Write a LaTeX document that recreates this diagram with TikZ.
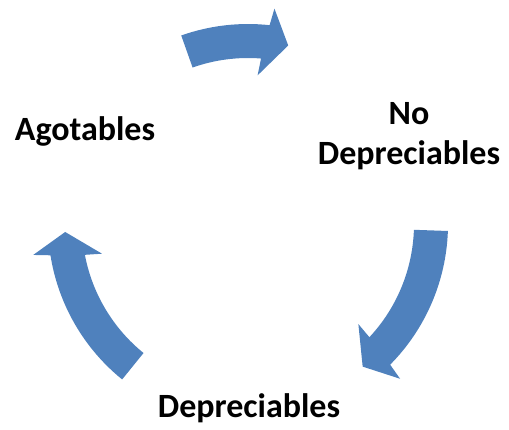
\documentclass[tikz,border=0pt]{standalone}
\usepackage{fontspec}
\setmainfont{Carlito}
\definecolor{cycblue}{RGB}{79,129,189}
\newcommand\CycArrow[2]{%
  \pgfmathsetmacro\ao{#2+6.5}%
  \pgfmathsetmacro\ai{#2+8.2}%
  \pgfmathsetmacro\co{#2+5.7}%
  \pgfmathsetmacro\ci{#2+9}%
  \fill[arrowfill] (#1:200pt) arc[start angle=#1, end angle=\ao, radius=200pt]
    -- (\co:217pt) -- (#2:183pt) -- (\ci:149pt) -- (\ai:166pt)
    arc[start angle=\ai, end angle=#1, radius=166pt] -- cycle;}
\tikzset{
  arrowfill/.style={fill=cycblue},
  lbl/.style={font=\fontsize{34}{40}\selectfont\bfseries, inner sep=0pt, text=black, align=center}
}
\begin{document}
\begin{tikzpicture}[x=1pt,y=1pt]
\useasboundingbox (0,0) rectangle (509,-429);
\begin{scope}[shift={(248,-224)}]
  \CycArrow{109.5}{77.3}
  \CycArrow{-2}{-51.2}
  \CycArrow{231}{182.5}
\end{scope}
\node[lbl, anchor=base] (agot) at (85,-140) {Agotables};
\node[lbl, anchor=base] (dep) at (249,-417) {Depreciables};
\node[lbl, anchor=center] (nodep) at (409,-136) {No\\Depreciables};
\end{tikzpicture}
\end{document}
